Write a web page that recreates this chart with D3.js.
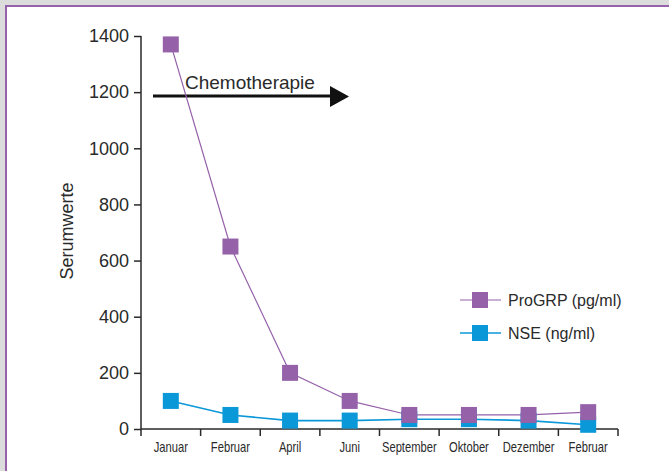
<!DOCTYPE html>
<html>
<head>
<meta charset="utf-8">
<script src="https://cdn.jsdelivr.net/npm/d3@7"></script>
<style>
  html, body { margin: 0; padding: 0; background: #dcdcdc; }
  svg { display: block; }
</style>
</head>
<body>
<svg id="chart" width="669" height="471"></svg>
<script>
// Monthly serum marker levels during chemotherapy
const months = ["Januar", "Februar", "April", "Juni", "September", "Oktober", "Dezember", "Februar"];
const proGRP = [1370, 650, 200, 100, 50, 50, 50, 60];   // pg/ml
const nse = [100, 50, 30, 30, 35, 35, 30, 15];          // ng/ml
const yTicks = [0, 200, 400, 600, 800, 1000, 1200, 1400];
const seriesNames = ["ProGRP (pg/ml)", "NSE (ng/ml)"];

const purple = "#9561a9";
const blue = "#0b98d8";
const ink = "#2a2a2a";
const font = "'Liberation Sans', Arial, sans-serif";

const svg = d3.select("#chart");

// framed white panel
svg.append("rect").attr("x", 0).attr("y", 0).attr("width", 669).attr("height", 471).attr("fill", "#dcdcdc");
svg.append("rect").attr("x", 6).attr("y", 6).attr("width", 700).attr("height", 500)
  .attr("fill", "#fff").attr("stroke", purple).attr("stroke-width", 2);

const x = d3.scaleBand().domain(d3.range(months.length)).range([141, 618]);
const y = d3.scaleLinear().domain([0, 1400]).range([429, 36]);
const cx = i => x(i) + x.bandwidth() / 2;

// y axis
const yAxis = svg.append("g").attr("transform", "translate(141,0)")
  .call(d3.axisLeft(y).tickValues(yTicks).tickFormat(d3.format("d"))
    .tickSize(7).tickSizeOuter(0).tickPadding(5));
yAxis.select(".domain").attr("stroke", ink).attr("stroke-width", 1.5).attr("d", "M0,36V436");
yAxis.selectAll(".tick line").attr("stroke", ink).attr("stroke-width", 1.5);
yAxis.selectAll(".tick text").attr("fill", ink)
  .style("font-family", font).style("font-size", "18px");

// x axis with ticks at band boundaries
const xg = svg.append("g").attr("transform", "translate(0,429)");
xg.append("line").attr("x1", 141).attr("x2", 618).attr("y1", 0).attr("y2", 0)
  .attr("stroke", ink).attr("stroke-width", 1.5);
xg.selectAll("line.tk").data(d3.range(1, months.length + 1)).enter().append("line")
  .attr("class", "tk")
  .attr("x1", i => x(0) + i * x.step()).attr("x2", i => x(0) + i * x.step())
  .attr("y1", 0).attr("y2", 7).attr("stroke", ink).attr("stroke-width", 1.5);
// condensed month labels
xg.selectAll("text").data(months).enter().append("text")
  .attr("transform", (d, i) => `translate(${cx(i)},23) scale(0.8,1)`)
  .attr("text-anchor", "middle").attr("fill", ink)
  .style("font-family", font).style("font-size", "14px").text(d => d);

// y axis title
svg.append("text").attr("transform", "translate(73,231) rotate(-90)")
  .attr("text-anchor", "middle").attr("fill", ink)
  .style("font-family", font).style("font-size", "18px")
  .text("Serumwerte");

// chemotherapy arrow
svg.append("line").attr("x1", 153).attr("x2", 332).attr("y1", 96).attr("y2", 96)
  .attr("stroke", "#111").attr("stroke-width", 3);
svg.append("path").attr("d", "M330,86L349,96.5L330,107Z").attr("fill", "#111");
svg.append("text").attr("x", 185).attr("y", 89).attr("fill", ink)
  .style("font-family", font).style("font-size", "19px")
  .text("Chemotherapie");

// series: NSE first, ProGRP drawn over it
const line = d3.line().x((d, i) => cx(i)).y(d => y(d));
const series = [
  { values: nse, color: blue, width: 1.6 },
  { values: proGRP, color: purple, width: 1.2 }
];
series.forEach(s => {
  svg.append("path").datum(s.values).attr("d", line)
    .attr("fill", "none").attr("stroke", s.color).attr("stroke-width", s.width);
});
series.forEach(s => {
  svg.append("g").selectAll("rect").data(s.values).enter().append("rect")
    .attr("x", (d, i) => cx(i) - 8).attr("y", d => y(d) - 8)
    .attr("width", 16).attr("height", 16).attr("fill", s.color);
});

// legend
const legend = svg.append("g");
[[purple, 300, 1.2], [blue, 333, 1.6]].forEach(([c, ly, w], k) => {
  legend.append("line").attr("x1", 460).attr("x2", 501).attr("y1", ly).attr("y2", ly)
    .attr("stroke", c).attr("stroke-width", w);
  legend.append("rect").attr("x", 472).attr("y", ly - 8).attr("width", 16).attr("height", 16).attr("fill", c);
  legend.append("text").attr("x", 508).attr("y", ly + 6).attr("fill", ink)
    .style("font-family", font).style("font-size", "16px")
    .text(seriesNames[k]);
});
</script>
</body>
</html>
